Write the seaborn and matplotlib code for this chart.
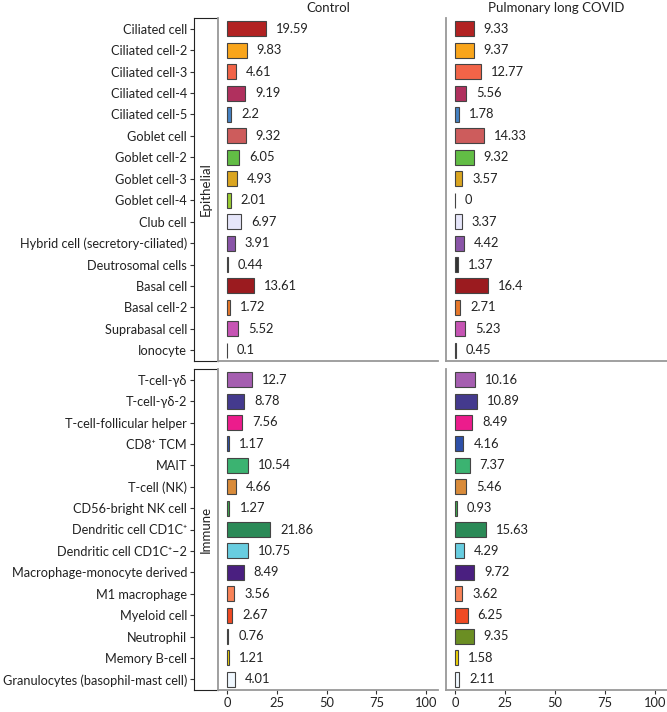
import matplotlib
matplotlib.use("Agg")
import matplotlib.pyplot as plt
import seaborn as sns
import pandas as pd

sns.set_style("white")
plt.rcParams['font.family'] = ['Lato', 'DejaVu Sans']

# categories per cell group
epi_cells = ['Ciliated cell', 'Ciliated cell-2', 'Ciliated cell-3', 'Ciliated cell-4',
             'Ciliated cell-5', 'Goblet cell', 'Goblet cell-2', 'Goblet cell-3',
             'Goblet cell-4', 'Club cell', 'Hybrid cell (secretory-ciliated)',
             'Deutrosomal cells', 'Basal cell', 'Basal cell-2', 'Suprabasal cell', 'Ionocyte']
imm_cells = ['T-cell-γδ', 'T-cell-γδ-2', 'T-cell-follicular helper', 'CD8⁺ TCM', 'MAIT',
             'T-cell (NK)', 'CD56-bright NK cell', 'Dendritic cell CD1C⁺',
             'Dendritic cell CD1C⁺–2', 'Macrophage-monocyte derived', 'M1 macrophage',
             'Myeloid cell', 'Neutrophil', 'Memory B-cell', 'Granulocytes (basophil-mast cell)']

# percentages
epi_control = [19.59, 9.83, 4.61, 9.19, 2.2, 9.32, 6.05, 4.93, 2.01, 6.97, 3.91, 0.44, 13.61, 1.72, 5.52, 0.1]
epi_covid = [9.33, 9.37, 12.77, 5.56, 1.78, 14.33, 9.32, 3.57, 0, 3.37, 4.42, 1.37, 16.4, 2.71, 5.23, 0.45]
imm_control = [12.7, 8.78, 7.56, 1.17, 10.54, 4.66, 1.27, 21.86, 10.75, 8.49, 3.56, 2.67, 0.76, 1.21, 4.01]
imm_covid = [10.16, 10.89, 8.49, 4.16, 7.37, 5.46, 0.93, 15.63, 4.29, 9.72, 3.62, 6.25, 9.35, 1.58, 2.11]

epi_colors = ['#B22222', '#F9A51B', '#F26448', '#B0305E', '#4682C4', '#CD5C5C', '#62BD45', '#DAA520',
              '#9ACD32', '#E6E6FA', '#8A55A8', '#333333', '#9B1B1F', '#E8782A', '#C654B4', '#555555']
imm_colors = ['#A55EB0', '#443A8E', '#EC1C8C', '#2E50A8', '#3BB371', '#D98B3A', '#3DA84A', '#2B8A57',
              '#68CDE0', '#4A1F80', '#F98358', '#F04A23', '#6B8E23', '#EED205', '#F0F8FF']

groups = ['Control', 'Pulmonary long COVID']
rows = [('Epithelial', epi_cells, [epi_control, epi_covid], epi_colors),
        ('Immune', imm_cells, [imm_control, imm_covid], imm_colors)]

fig = plt.figure(figsize=(6.67, 7.12), dpi=100)

W, H = 667, 712
def frac(x0, y0, x1, y1):
    return [x0 / W, 1 - y1 / H, (x1 - x0) / W, (y1 - y0) / H]

row_y = [(18, 361), (369, 690)]
col_x = [(218, 438), (446, 667)]
grey = '#999999'

for r, (name, cells, vals, cols) in enumerate(rows):
    y0, y1 = row_y[r]
    # strip with labels
    sax = fig.add_axes(frac(194, y0, 218, y1))
    for c, g in enumerate(groups):
        ax = fig.add_axes(frac(col_x[c][0], y0, col_x[c][1], y1))
        df = pd.DataFrame({'cell': cells, 'pct': vals[c]})
        sns.barplot(data=df, x='pct', y='cell', hue='cell', palette=cols, legend=False,
                    orient='h', width=0.7, saturation=1, edgecolor='#444444', linewidth=0.8, ax=ax)
        for i, v in enumerate(vals[c]):
            ax.text(v + 5, i, f'{v:g}', va='center', ha='left', fontsize=9.3, color='#222222')
        ax.set_xlim(-4.5, 106)
        ax.set_xticks([0, 25, 50, 75, 100])
        ax.set_xlabel('')
        ax.set_ylabel('')
        ax.set_yticks([])
        for s in ['top', 'right']:
            ax.spines[s].set_visible(False)
        for s in ['left', 'bottom']:
            ax.spines[s].set_color(grey)
            ax.spines[s].set_linewidth(1.3)
        if r == 0:
            ax.set_title(g, fontsize=9.5, color='#222222', pad=4)
            ax.tick_params(axis='x', bottom=False, labelbottom=False)
        else:
            ax.tick_params(axis='x', bottom=True, length=3, color='#333333',
                           labelsize=9.3, labelcolor='#222222', pad=2)
        ylim = ax.get_ylim()
    sax.set_ylim(ylim)
    sax.set_xlim(0, 1)
    sax.set_xticks([])
    sax.set_yticks(range(len(cells)))
    sax.set_yticklabels(cells)
    sax.tick_params(axis='y', left=True, length=3, color='#333333', labelsize=9.2,
                    labelcolor='#222222', pad=2)
    for s in sax.spines.values():
        s.set_visible(True)
        s.set_color('#222222')
        s.set_linewidth(0.8)
    sax.text(0.5, 0.5, name, rotation=90, ha='center', va='center', fontsize=9.5,
             color='#222222', transform=sax.transAxes)

fig.savefig('out.png', dpi=100)
